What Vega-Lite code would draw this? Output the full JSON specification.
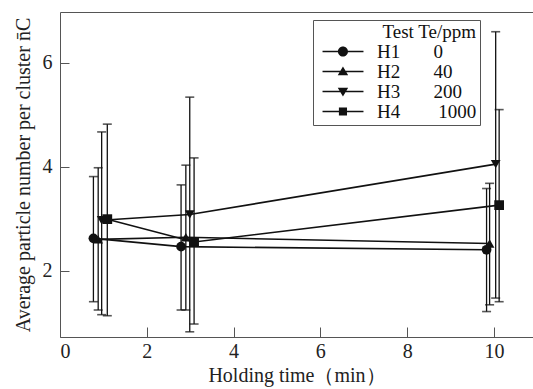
{
  "$schema": "https://vega.github.io/schema/vega-lite/v6.json",
  "autosize": "none",
  "padding": {"left": 60, "top": 12, "right": 0, "bottom": 52},
  "width": 473,
  "height": 325,
  "background": "white",
  "config": {
    "view": {"stroke": null},
    "font": "Liberation Serif",
    "axis": {
      "labelFont": "Liberation Serif",
      "titleFont": "Liberation Serif",
      "labelFontSize": 20,
      "titleFontSize": 20,
      "titleFontWeight": "normal",
      "labelColor": "#222",
      "titleColor": "#222",
      "domainColor": "#555",
      "tickColor": "#555",
      "grid": false
    },
    "legend": {
      "labelFont": "Liberation Serif",
      "titleFont": "Liberation Serif"
    }
  },
  "data": {
    "values": [
      {"series": "H1", "x": 0.77, "y": 2.62, "lo": 1.40, "hi": 3.81},
      {"series": "H1", "x": 2.79, "y": 2.46, "lo": 1.24, "hi": 3.65},
      {"series": "H1", "x": 9.83, "y": 2.40, "lo": 1.21, "hi": 3.58},
      {"series": "H2", "x": 0.88, "y": 2.60, "lo": 1.24, "hi": 3.98},
      {"series": "H2", "x": 2.90, "y": 2.64, "lo": 1.24, "hi": 4.03},
      {"series": "H2", "x": 9.90, "y": 2.52, "lo": 1.34, "hi": 3.68},
      {"series": "H3", "x": 0.96, "y": 2.97, "lo": 1.15, "hi": 4.67},
      {"series": "H3", "x": 2.99, "y": 3.08, "lo": 0.82, "hi": 5.34},
      {"series": "H3", "x": 10.04, "y": 4.05, "lo": 1.47, "hi": 6.60},
      {"series": "H4", "x": 1.09, "y": 2.99, "lo": 1.13, "hi": 4.82},
      {"series": "H4", "x": 3.09, "y": 2.55, "lo": 0.97, "hi": 4.17},
      {"series": "H4", "x": 10.12, "y": 3.26, "lo": 1.40, "hi": 5.10}
    ]
  },
  "layer": [
    {
      "mark": {"type": "rule", "color": "#111", "strokeWidth": 1.3},
      "encoding": {
        "x": {
          "field": "x", "type": "quantitative",
          "scale": {"domain": [0, 10.9], "nice": false, "zero": false},
          "axis": {"orient": "bottom", "values": [0, 2, 4, 6, 8, 10], "format": "d", "tickSize": -10, "labelPadding": 14, "title": "Holding time（min）", "titlePadding": 4}
        },
        "y": {
          "field": "lo", "type": "quantitative",
          "scale": {"domain": [0.72, 6.98], "nice": false, "zero": false},
          "axis": {"values": [2, 4, 6], "format": "d", "tickSize": -9, "labelPadding": 17, "title": "Average particle number per cluster n\u0304C", "titlePadding": 9}
        },
        "y2": {"field": "hi"}
      }
    },
    {
      "mark": {"type": "tick", "orient": "horizontal", "size": 9, "thickness": 1.6, "color": "#111"},
      "encoding": {
        "x": {"field": "x", "type": "quantitative", "axis": null},
        "y": {"field": "lo", "type": "quantitative"}
      }
    },
    {
      "mark": {"type": "tick", "orient": "horizontal", "size": 9, "thickness": 1.6, "color": "#111"},
      "encoding": {
        "x": {"field": "x", "type": "quantitative", "axis": null},
        "y": {"field": "hi", "type": "quantitative"}
      }
    },
    {
      "mark": {"type": "line", "color": "#111", "strokeWidth": 1.6},
      "encoding": {
        "x": {"field": "x", "type": "quantitative", "axis": null},
        "y": {"field": "y", "type": "quantitative"},
        "detail": {"field": "series", "type": "nominal"}
      }
    },
    {
      "mark": {"type": "point", "filled": true, "color": "#111", "size": 95, "opacity": 1},
      "encoding": {
        "x": {"field": "x", "type": "quantitative", "axis": null},
        "y": {"field": "y", "type": "quantitative"},
        "shape": {
          "field": "series", "type": "nominal",
          "scale": {"domain": ["H1", "H2", "H3", "H4"], "range": ["circle", "triangle-up", "triangle-down", "square"]},
          "legend": null
        }
      }
    },
    {
      "transform": [{"filter": "false"}],
      "mark": {"type": "point", "filled": true, "color": "#111"},
      "encoding": {
        "x": {
          "field": "x", "type": "quantitative",
          "axis": {"orient": "top", "labels": false, "ticks": false, "title": null, "domain": true}
        },
        "y": {"field": "y", "type": "quantitative"},
        "shape": {
          "field": "series", "type": "nominal",
          "scale": {
            "domain": ["H1", "H2", "H3", "H4"],
            "range": [
              "M-0.33,-0.08H4.22V0.08H-0.33ZM1.38,0A0.56,0.56 0 1,1 2.5,0A0.56,0.56 0 1,1 1.38,0Z",
              "M-0.33,-0.08H4.22V0.08H-0.33ZM1.94,-0.55L2.52,0.42L1.36,0.42Z",
              "M-0.33,-0.08H4.22V0.08H-0.33ZM1.94,0.55L1.36,-0.42L2.52,-0.42Z",
              "M-0.33,-0.08H4.22V0.08H-0.33ZM1.49,-0.45H2.39V0.45H1.49Z"
            ]
          },
          "legend": {
            "orient": "none",
            "legendX": 253,
            "legendY": 8,
            "title": "Test Te/ppm",
            "titleAnchor": "end",
            "titleFontSize": 19,
            "titleFontWeight": "normal",
            "titleColor": "#111",
            "titlePadding": 0,
            "labelFontSize": 19,
            "labelColor": "#111",
            "labelOffset": 42,
            "labelExpr": "datum.label == 'H1' ? 'H1\u00a0\u00a0\u00a0\u00a0\u00a0\u00a0\u00a00' : datum.label == 'H2' ? 'H2\u00a0\u00a0\u00a0\u00a0\u00a0\u00a0\u00a040' : datum.label == 'H3' ? 'H3\u00a0\u00a0\u00a0\u00a0\u00a0\u00a0\u00a0200' : 'H4\u00a0\u00a0\u00a0\u00a0\u00a0\u00a0\u00a0\u00a01000'",
            "symbolSize": 324,
            "symbolFillColor": "#111",
            "symbolStrokeWidth": 0,
            "symbolOpacity": 1,
            "rowPadding": -1.5,
            "padding": 3,
            "strokeColor": "#555",
            "encode": {
              "symbols": {
                "update": {
                  "fill": {"value": "#111"},
                  "strokeWidth": {"value": 0},
                  "opacity": {"value": 1}
                }
              }
            }
          }
        }
      }
    }
  ],
  "resolve": {"scale": {"shape": "independent"}, "axis": {"x": "independent"}, "legend": {"shape": "independent"}}
}
